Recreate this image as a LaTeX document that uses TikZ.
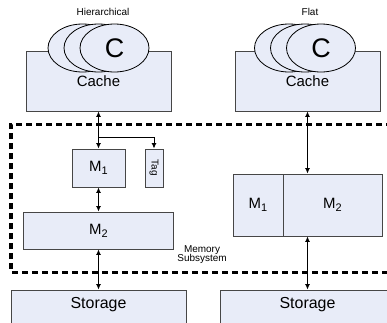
\documentclass[tikz,border=0pt]{standalone}
\usepackage{fontspec}
\setmainfont{Liberation Sans}
\usetikzlibrary{arrows.meta,shapes.geometric}
\definecolor{boxfill}{RGB}{232,236,248}
\definecolor{boxline}{RGB}{70,70,70}
\newcommand{\fs}[1]{\fontsize{#1}{#1}\selectfont}
\newcommand{\Msub}[1]{M\raisebox{-0.22em}{\fs{11}#1}}
\tikzset{
  box/.style={draw=boxline, fill=boxfill, line width=0.9bp, inner sep=0pt, rectangle},
  cell/.style={draw=black, fill=boxfill, line width=0.8bp, ellipse, inner sep=0pt,
     minimum width=69bp, minimum height=48bp},
  dbl/.style={line width=0.9bp, {Latex[length=5.5bp,width=5bp]}-{Latex[length=5.5bp,width=5bp]}},
  sgl/.style={line width=0.9bp, -{Latex[length=5.5bp,width=5bp]}},
  border/.style={line width=3bp, dash pattern=on 6bp off 4bp},
  lbl/.style={inner sep=0pt, font=\fs{10}}
}
\begin{document}
\begin{tikzpicture}[x=1bp,y=-1bp]
\useasboundingbox (0,0) rectangle (387,323);
\fill[white] (0,0) rectangle (387,323);
% titles
\node[lbl] (titleL) at (103,12) {Hierarchical};
\node[lbl] (titleR) at (310,12) {Flat};
% caches
\node[box, minimum width=145bp, minimum height=60bp, font=\fs{15}] (cacheL) at (98.5,81) {Cache};
\node[box, minimum width=145bp, minimum height=60bp, font=\fs{15}] (cacheR) at (307.5,81) {Cache};
\node[cell] (eL1) at (82.5,48) {};
\node[cell] (eL2) at (98.5,48) {};
\node[cell, font=\fs{27}] (eL3) at (114.5,48) {\raisebox{0.5bp}{C}\hspace{2bp}};
\node[cell] (eR1) at (289,48) {};
\node[cell] (eR2) at (305,48) {};
\node[cell, font=\fs{27}] (eR3) at (321,48) {\raisebox{0.5bp}{C}\hspace{2bp}};
% memory subsystem border
\draw[border] (392,124) -- (11,124) -- (11,272) -- (392,272);
\node[lbl, align=center] (memsub) at (202,254.5) {Memory\\[-1.5bp]Subsystem};
% left memory
\node[box, minimum width=53bp, minimum height=38bp, font=\fs{15}] (m1L) at (98.5,168) {\Msub{1}};
\node[box, minimum width=18bp, minimum height=38bp] (tagL) at (154,168) {\rotatebox{-90}{\fs{10}Tag}};
\node[box, minimum width=150bp, minimum height=37bp, font=\fs{15}] (m2L) at (98.5,230.5) {\Msub{2}};
% right memory
\node[box, minimum width=50bp, minimum height=62bp, font=\fs{15}] (m1R) at (258,205) {\Msub{1}};
\node[box, minimum width=99bp, minimum height=62bp, font=\fs{15}] (m2R) at (332.5,205) {\Msub{2}};
% storage
\node[box, minimum width=175bp, minimum height=40bp] (storL) at (98.5,310) {};
\node[box, minimum width=175bp, minimum height=40bp] (storR) at (307.5,310) {};
\node[inner sep=0pt, font=\fs{16}] (storLt) at (98.5,305) {Storage};
\node[inner sep=0pt, font=\fs{16}] (storRt) at (307.5,305) {Storage};
% connectors
\draw[dbl] (cacheL.south) -- (m1L.north);
\coordinate (br) at (98.5,137);
\draw[sgl] (br) -| (tagL.north);
\draw[dbl] (m1L.south) -- (m1L.south |- m2L.north);
\draw[dbl] (m2L.south) -- (m2L.south |- storL.north);
\draw[dbl] (cacheR.south) -- (cacheR.south |- m2R.north);
\draw[dbl] (cacheR.south |- m2R.south) -- (storR.north);
\end{tikzpicture}
\end{document}
